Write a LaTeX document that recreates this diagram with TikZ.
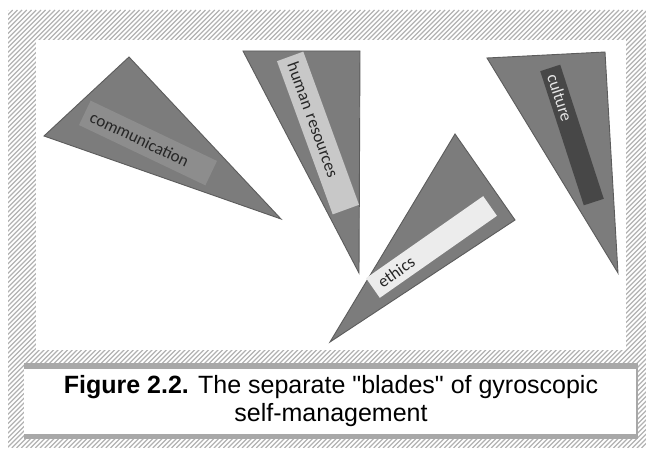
\documentclass[tikz,border=0pt]{standalone}
\usepackage{fontspec}
\setmainfont{Liberation Sans}[Ligatures=TeXOff]
\newfontfamily\carlito{Carlito}
\definecolor{hatchgray}{HTML}{B2B2B2}
\definecolor{framegray}{HTML}{A8A8A8}
\definecolor{bladefill}{HTML}{7C7C7C}
\definecolor{bladeedge}{HTML}{5C5C5C}
\definecolor{tagmid}{HTML}{8D8D8D}
\definecolor{taglight}{HTML}{C8C8C8}
\definecolor{tagpale}{HTML}{ECECEC}
\definecolor{tagdark}{HTML}{474747}
\begin{document}
\begin{tikzpicture}[x=1pt,y=-1pt,
  blade/.style={fill=bladefill,draw=bladeedge,line width=0.9pt,line join=miter},
  tag/.style={inner ysep=0pt,inner xsep=7pt,align=left,text=black!85,
    font=\carlito\fontsize{17}{17}\selectfont}]
\useasboundingbox (0,0) rectangle (646,454);
% hatched frame
\begin{scope}
  \clip (8,10) rectangle (646,448);
  \foreach \i in {0,...,232}{
    \draw[hatchgray,line width=1.25pt] (-430+\i*4.7,448) -- (8+\i*4.7,10);
  }
\end{scope}
% drawing panel and caption box
\fill[white] (36,40) rectangle (626,350);
\fill[framegray] (24,363) rectangle (638,439);
\fill[white] (24,369) rectangle (636,434);
% blade: communication
\coordinate (c1) at (129,57);
\coordinate (c2) at (44,136);
\coordinate (c3) at (281,219);
\draw[blade] (c1) -- (c2) -- (c3) -- cycle;
\node[tag,fill=tagmid,rotate=-25.5,minimum height=27pt,text width=126pt] (comm) at (148,143) {communication};
% blade: human resources
\coordinate (h1) at (243,51);
\coordinate (h2) at (360,51);
\coordinate (h3) at (359,273);
\draw[blade] (h1) -- (h2) -- (h3) -- cycle;
\node[tag,fill=taglight,rotate=-70,minimum height=28pt,text width=149pt] (hr) at (318,133) {human resources};
% blade: ethics
\coordinate (e1) at (455,134);
\coordinate (e2) at (515,220);
\coordinate (e3) at (330,342);
\draw[blade] (e1) -- (e2) -- (e3) -- cycle;
\node[tag,fill=tagpale,rotate=35,minimum height=24pt,text width=127pt,inner xsep=8pt] (eth) at (431.5,247) {ethics};
% blade: culture
\coordinate (k1) at (487,58);
\coordinate (k2) at (605,52);
\coordinate (k3) at (618,273);
\draw[blade] (k1) -- (k2) -- (k3) -- cycle;
\node[tag,fill=tagdark,text=white!90!black,rotate=-72,minimum height=21pt,text width=127pt] (cult) at (572,135) {culture};
% caption
\node[align=center,font=\fontsize{25}{28}\selectfont,inner sep=0pt] (cap) at (331,401.5)
  {\textbf{Figure 2.2.} The separate "blades" of gyroscopic\\self-management};
\end{tikzpicture}
\end{document}
